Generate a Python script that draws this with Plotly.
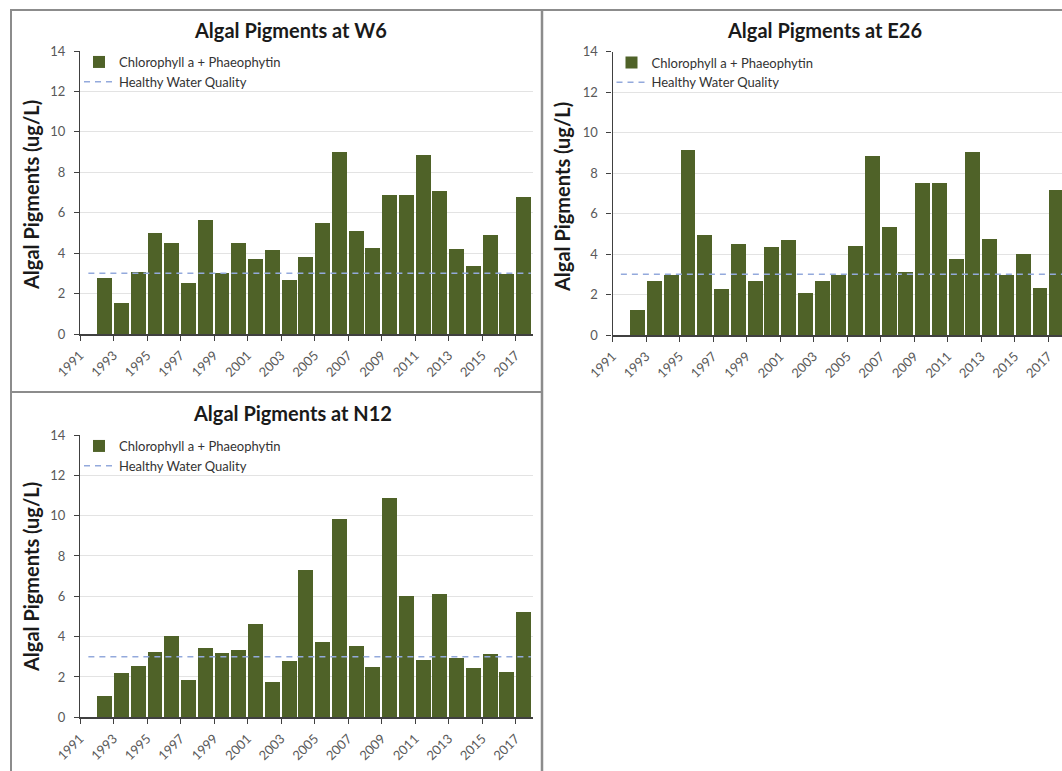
import plotly.graph_objects as go

# ---------------- data ----------------
years = list(range(1992, 2018))
tick_years = list(range(1991, 2018, 2))
tick_labels = [str(y) for y in tick_years]

w6_values = [2.77, 1.52, 3.05, 5.02, 4.52, 2.54, 5.64, 3.04, 4.50, 3.70, 4.16, 2.67, 3.80,
             5.51, 8.98, 5.12, 4.24, 6.90, 6.90, 8.88, 7.08, 4.19, 3.35, 4.92, 2.95, 6.77]
e26_values = [1.26, 2.68, 2.99, 9.14, 4.94, 2.28, 4.52, 2.69, 4.36, 4.73, 2.10, 2.68, 3.00,
              4.44, 8.86, 5.35, 3.15, 7.55, 7.55, 3.80, 9.05, 4.76, 2.99, 4.01, 2.35, 7.18]
n12_values = [1.07, 2.18, 2.55, 3.24, 4.05, 1.85, 3.42, 3.21, 3.34, 4.61, 1.74, 2.78, 7.31,
              3.72, 9.82, 3.52, 2.51, 10.86, 6.00, 2.84, 6.12, 2.96, 2.43, 3.12, 2.25, 5.20]
healthy_level = 3

stations = ["W6", "E26", "N12"]
series = [w6_values, e26_values, n12_values]

# ---------------- style ----------------
W, H = 1062, 771
BAR_COLOR = "#4F6228"
LINE_COLOR = "#93A9DC"
FONT = "Lato"
AXIS_COLOR = "#404040"
TICK_FONT_COLOR = "#595959"


def px_x(px):
    return px / W


def px_y(py):
    return 1 - py / H


# plot-area boxes in pixels: (left, right, top, bottom, x_range_end, title_cx, title_cy, ytitle_cx, ytitle_cy)
boxes = [
    (80, 532.5, 51, 334, 2018, 290, 30, 31, 195),
    (612.5, 1062, 51.5, 335, 2017.82, 824, 30, 562, 197),
    (80, 532.5, 435, 717.3, 2018, 292, 413, 31, 577),
]

fig = go.Figure()
layout = dict(
    width=W, height=H, autosize=False,
    margin=dict(l=0, r=0, t=0, b=0, pad=0, autoexpand=False),
    paper_bgcolor="white", plot_bgcolor="white",
    font=dict(family=FONT, color=AXIS_COLOR),
    showlegend=True,
    bargap=0,
)

annotations = []
shapes = []

for i, (name, vals, box) in enumerate(zip(stations, series, boxes)):
    left, right, top, bottom, xend, tcx, tcy, ycx, ycy = box
    sfx = "" if i == 0 else str(i + 1)
    xa, ya = "x" + sfx, "y" + sfx
    leg = "legend" + sfx

    fig.add_trace(go.Bar(
        x=years, y=vals, name="Chlorophyll a + Phaeophytin",
        marker=dict(color=BAR_COLOR, line=dict(width=0)),
        width=0.89, offset=0.03,
        xaxis=xa, yaxis=ya, legend=leg,
        hoverinfo="x+y",
    ))
    fig.add_trace(go.Scatter(
        x=[years[0] - 0.5, years[-1] + 0.9], y=[healthy_level, healthy_level],
        mode="lines", name="Healthy Water Quality",
        line=dict(color=LINE_COLOR, width=1.5, dash="6px,5px"),
        xaxis=xa, yaxis=ya, legend=leg,
    ))

    layout["xaxis" + sfx] = dict(
        domain=[px_x(left), min(1.0, px_x(right))],
        range=[1991, xend],
        anchor=ya, automargin=False,
        tickmode="array", tickvals=tick_years, ticktext=tick_labels,
        tickangle=-45,
        tickfont=dict(size=13, color=TICK_FONT_COLOR, family=FONT),
        ticks="outside", ticklen=5, tickcolor=AXIS_COLOR, tickwidth=1,
        ticklabelstandoff=2,
        showline=True, linecolor=AXIS_COLOR, linewidth=1.5,
        showgrid=False, zeroline=False, fixedrange=True,
    )
    layout["yaxis" + sfx] = dict(
        domain=[px_y(bottom), px_y(top)],
        range=[0, 14], dtick=2, tick0=0,
        anchor=xa, automargin=False,
        tickfont=dict(size=13, color=TICK_FONT_COLOR, family=FONT),
        ticks="outside", ticklen=5, tickcolor=AXIS_COLOR, tickwidth=1,
        ticklabelstandoff=6,
        showline=True, linecolor=AXIS_COLOR, linewidth=1.2,
        showgrid=True, gridcolor="#E3E3E3", gridwidth=1,
        zeroline=False, fixedrange=True,
    )
    layout[leg] = dict(
        x=px_x(left - 1), y=px_y(top - 4), xanchor="left", yanchor="top",
        bgcolor="rgba(0,0,0,0)", borderwidth=0,
        font=dict(size=13, color="#333333", family=FONT),
        itemwidth=30, tracegroupgap=0,
    )

    annotations.append(dict(
        text="Algal Pigments at " + name, xref="paper", yref="paper",
        x=px_x(tcx), y=px_y(tcy), xanchor="center", yanchor="middle",
        showarrow=False, font=dict(size=20, color="#1a1a1a", family=FONT, weight="bold"),
    ))
    annotations.append(dict(
        text="Algal Pigments (ug/L)", xref="paper", yref="paper",
        x=px_x(ycx), y=px_y(ycy), xanchor="center", yanchor="middle",
        textangle=-90, showarrow=False,
        font=dict(size=20, color="#1a1a1a", family=FONT, weight="bold"),
    ))

FRAME = dict(color="#8C8C8C", width=2)
shapes.append(dict(type="rect", xref="paper", yref="paper",
                   x0=px_x(11), x1=px_x(542), y0=px_y(392), y1=px_y(10), line=FRAME))
shapes.append(dict(type="line", xref="paper", yref="paper",
                   x0=px_x(542), x1=px_x(1062), y0=px_y(10), y1=px_y(10), line=FRAME))
shapes.append(dict(type="line", xref="paper", yref="paper",
                   x0=px_x(542), x1=px_x(542), y0=px_y(10), y1=0, line=dict(color="#8C8C8C", width=2.5)))
shapes.append(dict(type="line", xref="paper", yref="paper",
                   x0=px_x(11), x1=px_x(11), y0=px_y(392), y1=0, line=FRAME))

layout["annotations"] = annotations
layout["shapes"] = shapes
fig.update_layout(**layout)

fig.write_html("out.html", config={"displayModeBar": False},
               post_script="document.body.style.margin='0';")
